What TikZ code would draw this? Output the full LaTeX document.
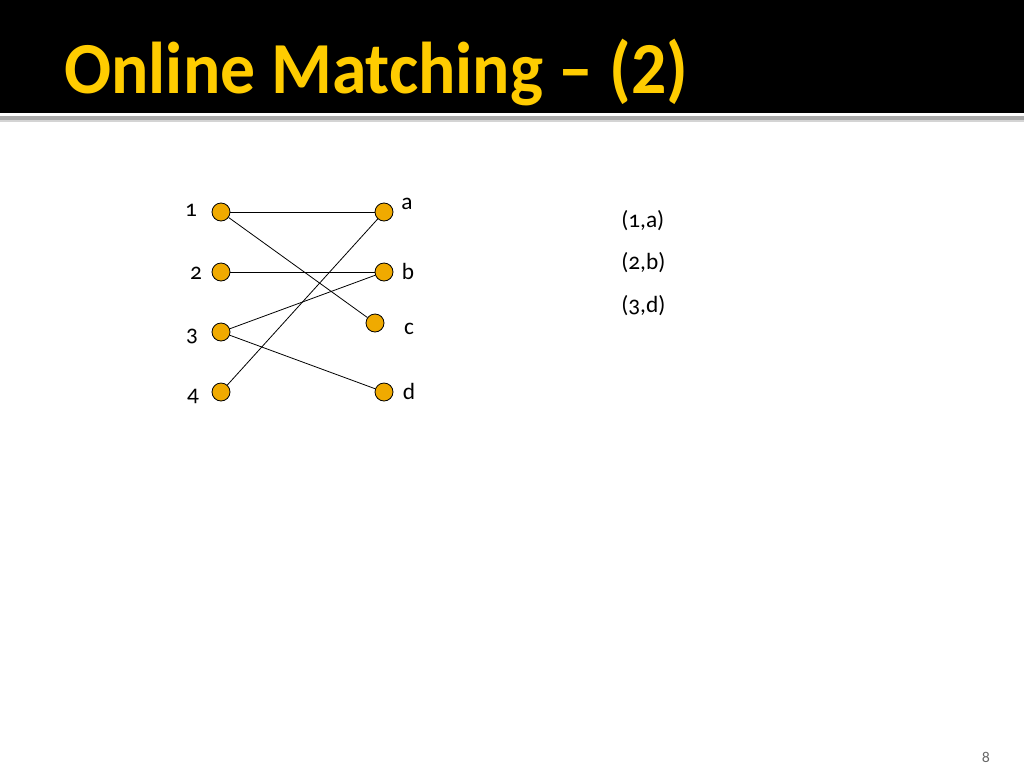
\documentclass[tikz,border=0pt]{standalone}
\usepackage{fontspec}
\setmainfont{Carlito}[Numbers=OldStyle]
\newfontfamily\titlefont{Carlito}[Numbers=Lining,FakeStretch=0.95]
\definecolor{titleyellow}{RGB}{255,204,0}
\definecolor{nodefill}{RGB}{240,170,0}
\definecolor{rulegray}{RGB}{170,170,170}
\begin{document}
\begin{tikzpicture}[x=0.75pt,y=-0.75pt,
  vtx/.style={circle,draw=black,fill=nodefill,line width=0.6pt,minimum size=13.5pt,inner sep=0pt},
  lbl/.style={font=\fontsize{17.5}{21}\selectfont,inner sep=0pt},
  edge/.style={line width=0.6pt,draw=black}]
\useasboundingbox (0,0) rectangle (1024,768);
\fill[white] (0,0) rectangle (1024,768);
\fill[black] (0,0) rectangle (1024,113);
\fill[rulegray] (0,116) rectangle (1024,120);
\fill[rulegray!50] (0,120) rectangle (1024,122);
\node[anchor=base west,text=titleyellow,inner sep=0pt,font=\titlefont\bfseries\fontsize{55}{60}\selectfont] (title) at (64,93) {Online Matching – (2)};
% vertices
\node[vtx] (v1) at (221,212) {};
\node[vtx] (v2) at (221,272) {};
\node[vtx] (v3) at (221,332) {};
\node[vtx] (v4) at (221,392) {};
\node[vtx] (va) at (384,212) {};
\node[vtx] (vb) at (384,272) {};
\node[vtx] (vc) at (375,323) {};
\node[vtx] (vd) at (384,392) {};
% labels
\node[lbl] (l1) at (191,210) {1};
\node[lbl] (l2) at (196,273) {2};
\node[lbl] (l3) at (192,336) {3};
\node[lbl] (l4) at (193,396) {4};
\node[lbl] (la) at (407,204) {a};
\node[lbl] (lb) at (408,271) {b};
\node[lbl] (lc) at (409,329) {c};
\node[lbl] (ld) at (409,391) {d};
% edges
\draw[edge] (v1) -- (va);
\draw[edge] (v1) -- (vc);
\draw[edge] (v2) -- (vb);
\draw[edge] (v3) -- (vb);
\draw[edge] (v3) -- (vd);
\draw[edge] (v4) -- (va);
% matching list
\node[lbl,anchor=west] (m1) at (621,221) {(1,a)};
\node[lbl,anchor=west] (m2) at (621,263) {(2,b)};
\node[lbl,anchor=west] (m3) at (621,306) {(3,d)};
\node[font=\fontsize{12}{14}\selectfont,text=black!60,inner sep=0pt] (pg) at (986,757) {8};
\end{tikzpicture}
\end{document}
